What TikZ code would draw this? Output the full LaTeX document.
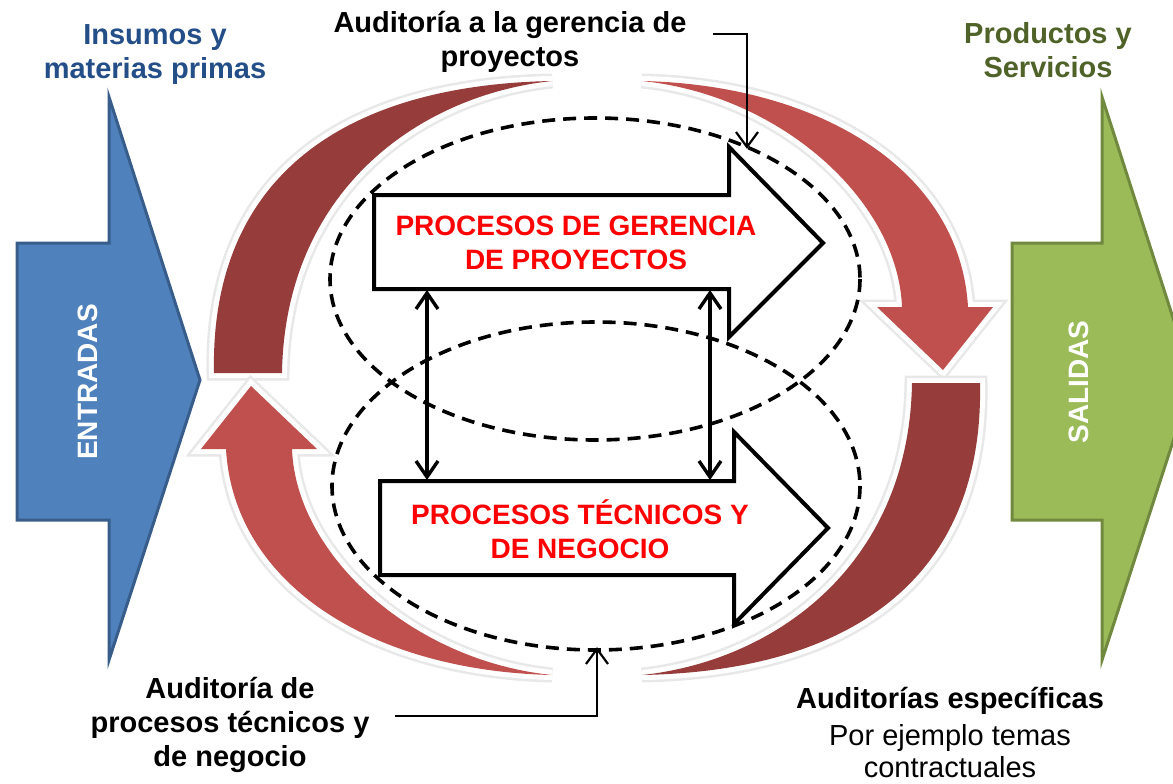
\documentclass[tikz,border=0pt]{standalone}
\usepackage{fontspec}
\setmainfont{Liberation Sans}
\usetikzlibrary{arrows.meta}
\definecolor{bluefill}{RGB}{79,129,189}
\definecolor{blueline}{RGB}{56,93,138}
\definecolor{greenfill}{RGB}{155,187,89}
\definecolor{greenline}{RGB}{113,137,63}
\definecolor{darkred}{RGB}{150,61,59}
\definecolor{lightred}{RGB}{192,80,77}
\definecolor{titleblue}{RGB}{36,78,135}
\definecolor{titlegreen}{RGB}{79,98,40}
\definecolor{procred}{RGB}{255,0,0}
\begin{document}
\begin{tikzpicture}[x=1pt,y=-1pt,
  lbl/.style={font=\fontsize{28}{34}\selectfont\bfseries, align=center, inner sep=0pt},
  lblb/.style={font=\fontsize{29}{34}\selectfont\bfseries, align=center, inner sep=0pt},
  plain/.style={font=\fontsize{29}{32}\selectfont, align=center, inner sep=0pt},
  ringpiece/.style={line join=round, preaction={draw=black!9, line width=15pt}, preaction={draw=white, line width=10pt}},
  bigarrow/.style={line width=3pt, line join=miter},
  procarrow/.style={draw=black, fill=white, line width=4pt, line join=miter},
  dashell/.style={draw=black, line width=3.6pt, dash pattern=on 13pt off 8pt},
  dbl/.style={line width=3.4pt},
  dblhead/.style={line width=3.4pt, line join=miter, line cap=butt},
  audit/.style={line width=2.2pt},
  audithead/.style={line width=2.2pt, line join=miter},
]
\useasboundingbox (0,0) rectangle (1173,784);
\clip (0,0) rectangle (1173,784);

% input / output arrows
\path[bigarrow, fill=bluefill, draw=blueline]
  (17,243) -- (109,243) -- (109,97) -- (200,380) -- (109,660) -- (109,520) -- (17,520) -- cycle;
\path[bigarrow, fill=greenfill, draw=greenline]
  (1012,243) -- (1102,243) -- (1102,97) -- (1193,380) -- (1102,660) -- (1102,520) -- (1012,520) -- cycle;
\node[lbl, text=white, rotate=90] (entradas) at (88,382) {ENTRADAS};
\node[lbl, text=white, rotate=90] (salidas) at (1079,382) {SALIDAS};

% circular arrows
\path[ringpiece, fill=darkred]
  (214,373) .. controls (210,180) and (340,85) .. (552,81)
  .. controls (420,95) and (285,190) .. (282,373) -- cycle;
\path[ringpiece, fill=lightred]
  (642,81) .. controls (820,85) and (960,170) .. (968,307)
  -- (993,307) -- (943,370) -- (877,307) -- (902,307)
  .. controls (898,200) and (780,95) .. (642,81) -- cycle;
\begin{scope}[rotate around={180:(597,378)}]
\path[ringpiece, fill=darkred]
  (214,373) .. controls (210,180) and (340,85) .. (552,81)
  .. controls (420,95) and (285,190) .. (282,373) -- cycle;
\path[ringpiece, fill=lightred]
  (642,81) .. controls (820,85) and (960,170) .. (968,307)
  -- (993,307) -- (943,370) -- (877,307) -- (902,307)
  .. controls (898,200) and (780,95) .. (642,81) -- cycle;
\end{scope}

% dashed ellipses
\draw[dashell] (595,279) ellipse [x radius=265, y radius=161];
\draw[dashell] (596,486) ellipse [x radius=264, y radius=164];

% process arrows
\path[procarrow]
  (374,195) -- (729,195) -- (729,147) -- (823,243) -- (729,337) -- (729,289) -- (374,289) -- cycle;
\path[procarrow]
  (380,481) -- (734,481) -- (734,432) -- (828,528) -- (734,624) -- (734,575) -- (380,575) -- cycle;
\node[lbl, text=procred] (pgp) at (576,243) {PROCESOS DE GERENCIA\\DE PROYECTOS};
\node[lbl, text=procred] (ptn) at (580,529) {PROCESOS TÉCNICOS Y\\DE NEGOCIO};

% double arrows between process arrows
\coordinate (u1) at (427,293);
\coordinate (l1) at (427,477);
\coordinate (u2) at (710,293);
\coordinate (l2) at (710,477);
\draw[dbl] (u1) -- (l1);
\draw[dbl] (u2) -- (l2);
\draw[dblhead] ([shift={(-11,16)}]u1) -- (u1) -- ([shift={(11,16)}]u1);
\draw[dblhead] ([shift={(-11,-16)}]l1) -- (l1) -- ([shift={(11,-16)}]l1);
\draw[dblhead] ([shift={(-11,16)}]u2) -- (u2) -- ([shift={(11,16)}]u2);
\draw[dblhead] ([shift={(-11,-16)}]l2) -- (l2) -- ([shift={(11,-16)}]l2);

% titles
\node[lblb, text=titleblue] (ins) at (155,55) {Insumos y\\materias primas};
\node[lblb, text=titlegreen] (prod) at (1048,50) {Productos y\\Servicios};
\node[lblb] (agp) at (510,42) {Auditoría a la gerencia de\\proyectos};
\node[lblb] (apt) at (230,725) {Auditoría de\\procesos técnicos y\\de negocio};
\node[lblb] (aesp) at (950,701) {Auditorías específicas};
\node[plain] (pej) at (950,751) {Por ejemplo temas\\contractuales};

% audit connectors
\coordinate (t1) at (713,34);
\coordinate (t2) at (747,147);
\draw[audit] (t1) -| (t2);
\draw[audithead] ([shift={(-11,-15)}]t2) -- (t2) -- ([shift={(11,-15)}]t2);
\coordinate (b1) at (395,716);
\coordinate (b2) at (597,649);
\draw[audit] (b1) -| (b2);
\draw[audithead] ([shift={(-11,15)}]b2) -- (b2) -- ([shift={(11,15)}]b2);
\end{tikzpicture}
\end{document}
